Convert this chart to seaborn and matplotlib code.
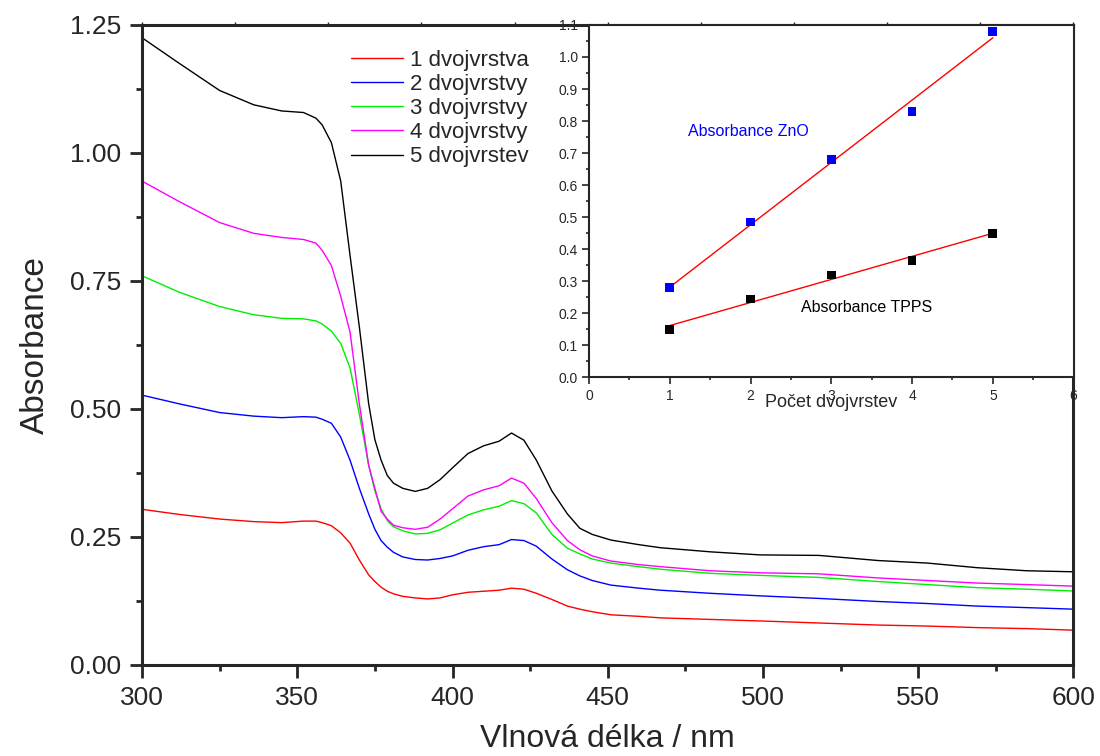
import numpy as np
import pandas as pd
import seaborn as sns
import matplotlib.pyplot as plt
from matplotlib.ticker import MultipleLocator

# spectra (wavelength in nm)
wavelength = [300, 312, 325, 336, 345, 352, 356, 358, 361, 364, 367, 370, 373, 375, 377, 379, 381,
              384, 388, 392, 396, 400, 405, 410, 415, 419, 423, 427, 432, 437, 441, 445, 451,
              460, 467, 483, 499, 518, 537, 553, 569, 585, 600]

abs_1 = [0.304, 0.294, 0.285, 0.280, 0.278, 0.281, 0.281, 0.278, 0.272, 0.258, 0.238, 0.205, 0.176,
         0.163, 0.152, 0.144, 0.139, 0.134, 0.131, 0.129, 0.131, 0.137, 0.142, 0.144, 0.146,
         0.150, 0.148, 0.140, 0.128, 0.115, 0.109, 0.104, 0.098, 0.095, 0.092, 0.089, 0.086,
         0.082, 0.078, 0.076, 0.073, 0.071, 0.068]
abs_2 = [0.527, 0.510, 0.493, 0.486, 0.483, 0.485, 0.484, 0.480, 0.472, 0.445, 0.400, 0.345, 0.295,
         0.265, 0.243, 0.230, 0.220, 0.211, 0.206, 0.205, 0.208, 0.213, 0.224, 0.231, 0.235,
         0.245, 0.243, 0.232, 0.207, 0.186, 0.174, 0.165, 0.156, 0.150, 0.146, 0.140, 0.135,
         0.130, 0.124, 0.120, 0.115, 0.112, 0.109]
abs_3 = [0.760, 0.728, 0.700, 0.684, 0.677, 0.676, 0.672, 0.666, 0.652, 0.628, 0.580, 0.490, 0.390,
         0.340, 0.305, 0.282, 0.270, 0.262, 0.256, 0.257, 0.264, 0.277, 0.293, 0.303, 0.310,
         0.321, 0.315, 0.297, 0.255, 0.228, 0.217, 0.207, 0.199, 0.192, 0.187, 0.179, 0.175,
         0.171, 0.163, 0.157, 0.151, 0.148, 0.1445]
abs_4 = [0.945, 0.905, 0.864, 0.843, 0.835, 0.831, 0.824, 0.810, 0.780, 0.720, 0.650, 0.510, 0.390,
         0.345, 0.300, 0.285, 0.273, 0.268, 0.265, 0.269, 0.285, 0.305, 0.330, 0.342, 0.350,
         0.365, 0.355, 0.325, 0.278, 0.243, 0.225, 0.213, 0.203, 0.196, 0.192, 0.184, 0.180,
         0.178, 0.170, 0.165, 0.160, 0.157, 0.154]
abs_5 = [1.225, 1.175, 1.122, 1.094, 1.082, 1.079, 1.068, 1.055, 1.020, 0.945, 0.800, 0.660, 0.510,
         0.440, 0.400, 0.370, 0.355, 0.345, 0.339, 0.345, 0.362, 0.385, 0.413, 0.428, 0.437,
         0.453, 0.439, 0.400, 0.340, 0.295, 0.267, 0.255, 0.244, 0.235, 0.229, 0.221, 0.215,
         0.214, 0.204, 0.199, 0.190, 0.184, 0.182]

series_labels = ["1 dvojvrstva", "2 dvojvrstvy", "3 dvojvrstvy", "4 dvojvrstvy", "5 dvojvrstev"]
series_colors = ["#ff0000", "#0000ff", "#00ee00", "#ff00ff", "#000000"]

# inset: absorbance vs number of bilayers
layers = [1, 2, 3, 4, 5]
abs_zno = [0.28, 0.485, 0.68, 0.83, 1.08]
abs_tpps = [0.15, 0.245, 0.32, 0.365, 0.45]

sns.set_style("ticks")
plt.rcParams["font.family"] = ["Liberation Sans", "DejaVu Sans"]

df = pd.DataFrame({
    "nm": wavelength * 5,
    "A": abs_1 + abs_2 + abs_3 + abs_4 + abs_5,
    "serie": [lab for lab in series_labels for _ in wavelength],
})

fig = plt.figure(figsize=(11, 7.56), dpi=100)
ax = fig.add_axes([0.1291, 0.1204, 0.8468, 0.8466])

sns.lineplot(data=df, x="nm", y="A", hue="serie", palette=series_colors,
             hue_order=series_labels, linewidth=1.0, ax=ax)

ax.set_xlim(300, 600)
ax.set_ylim(0, 1.25)
ax.xaxis.set_major_locator(MultipleLocator(50))
ax.xaxis.set_minor_locator(MultipleLocator(25))
ax.yaxis.set_major_locator(MultipleLocator(0.25))
ax.yaxis.set_minor_locator(MultipleLocator(0.125))
ax.yaxis.set_major_formatter(plt.FormatStrFormatter("%.2f"))
ax.tick_params(which="major", length=9, width=2, labelsize=19, pad=6, direction="out")
ax.tick_params(which="minor", length=4.5, width=2, direction="out")
for s in ax.spines.values():
    s.set_linewidth(2.2)
ax.set_xlabel("Vlnová délka / nm", fontsize=23, labelpad=10)
ax.set_ylabel("Absorbance", fontsize=24, labelpad=14)

ax.legend(loc="upper left", bbox_to_anchor=(0.319, 0.934), bbox_transform=fig.transFigure,
          frameon=False, fontsize=16, handlelength=2.35, handletextpad=0.3,
          labelspacing=0.14, borderpad=0, borderaxespad=0)

# small ticks along the top edge
top = ax.twiny()
top.set_xlim(300, 600)
top.xaxis.set_major_locator(MultipleLocator(30))
top.tick_params(axis="x", length=2, width=1, labeltop=False)

# inset
ins = fig.add_axes([0.5355, 0.5007, 0.4405, 0.4663])
sns.regplot(x=layers, y=abs_zno, scatter=False, ci=None, color="red",
            line_kws={"linewidth": 1.0}, ax=ins)
sns.regplot(x=layers, y=abs_tpps, scatter=False, ci=None, color="red",
            line_kws={"linewidth": 1.0}, ax=ins)
sns.scatterplot(x=layers, y=abs_zno, marker="s", s=40, color="#0000ff",
                edgecolor="none", ax=ins, zorder=3)
sns.scatterplot(x=layers, y=abs_tpps, marker="s", s=40, color="#000000",
                edgecolor="none", ax=ins, zorder=3)
ins.set_xlim(0, 6)
ins.set_ylim(0, 1.1)
ins.xaxis.set_major_locator(MultipleLocator(1))
ins.xaxis.set_minor_locator(MultipleLocator(0.5))
ins.yaxis.set_major_locator(MultipleLocator(0.1))
ins.yaxis.set_minor_locator(MultipleLocator(0.05))
ins.yaxis.set_major_formatter(plt.FormatStrFormatter("%.1f"))
ins.tick_params(which="major", length=5, width=1.2, labelsize=10, pad=3)
ins.tick_params(which="minor", length=2.5, width=1.2)
for s in ins.spines.values():
    s.set_linewidth(1.5)
ins.set_xlabel("Počet dvojvrstev", fontsize=13, labelpad=-6)
ins.set_ylabel("")
ins.text(1.23, 0.769, "Absorbance ZnO", color="#0000ff", fontsize=11.5, va="center")
ins.text(2.62, 0.219, "Absorbance TPPS", color="#000000", fontsize=11.5, va="center")

fig.savefig("out.png", dpi=100)
